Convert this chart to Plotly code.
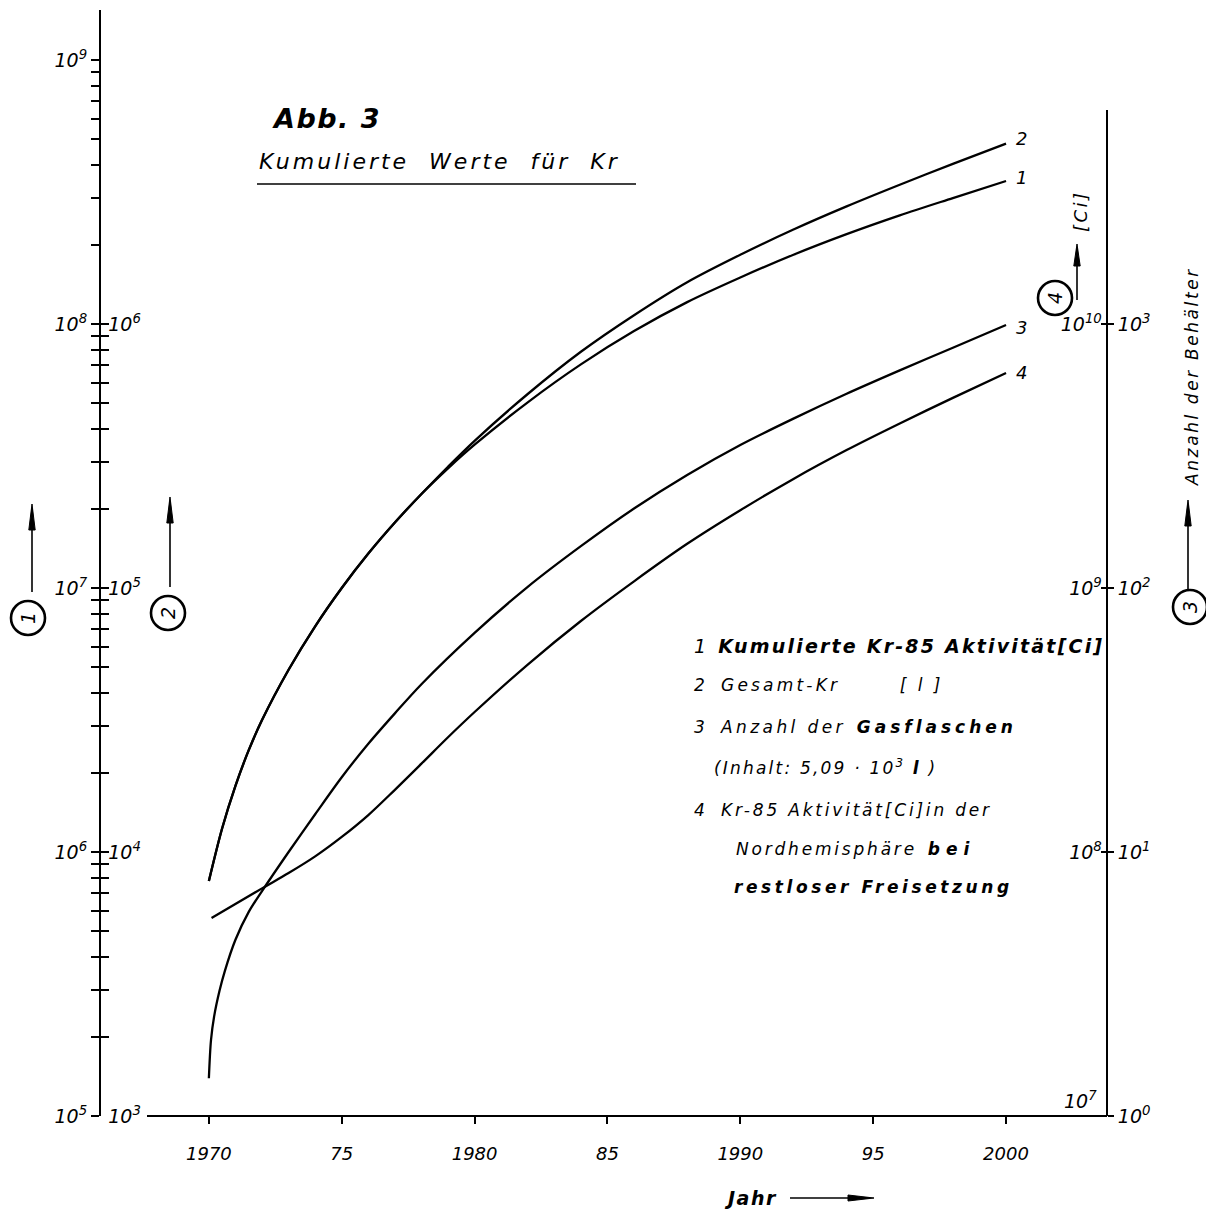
import plotly.graph_objects as go

# ---------------- data ----------------
years_12 = [1970, 1970.5, 1971, 1971.5, 1972, 1973, 1974, 1975, 1976, 1977, 1978, 1979, 1980,
            1982, 1984, 1986, 1988, 1990, 1992, 1994, 1996, 1998, 2000]
kr85_cum_ci = [7.76e5, 1.23e6, 1.78e6, 2.43e6, 3.16e6, 4.90e6, 7.16e6, 1.00e7, 1.35e7, 1.77e7, 2.27e7,
               2.84e7, 3.49e7, 5.05e7, 7.03e7, 9.40e7, 1.21e8, 1.50e8, 1.83e8, 2.19e8, 2.58e8,
               3.00e8, 3.48e8]
gesamt_kr_l = [7.76e3, 1.23e4, 1.78e4, 2.43e4, 3.16e4, 4.90e4, 7.16e4, 1.00e5, 1.35e5, 1.77e5, 2.27e5,
               2.88e5, 3.61e5, 5.43e5, 7.85e5, 1.08e6, 1.44e6, 1.83e6, 2.28e6, 2.79e6, 3.37e6,
               4.04e6, 4.82e6]

years_3 = [1970, 1970.08, 1970.2, 1970.4, 1970.6, 1971, 1971.5, 1972, 1973, 1974, 1975, 1976,
           1977, 1978, 1980, 1982, 1984, 1986, 1988, 1990, 1992, 1994, 1996, 1998, 2000]
gasflaschen = [1.39, 1.94, 2.39, 2.98, 3.54, 4.65, 5.93, 7.11, 10.0, 13.9, 19.2, 25.7,
               33.5, 43.2, 67.6, 101, 144, 200, 268, 348, 438, 544, 667, 813, 991]

years_4 = [1970.1, 1972, 1973, 1974, 1975, 1976, 1977, 1978, 1979, 1980, 1982, 1984, 1986,
           1988, 1990, 1992, 1994, 1996, 1998, 2000]
kr85_nh_ci = [5.62e7, 7.28e7, 8.32e7, 9.62e7, 1.14e8, 1.38e8, 1.72e8, 2.16e8, 2.72e8, 3.39e8, 5.13e8,
              7.50e8, 1.06e9, 1.47e9, 1.97e9, 2.59e9, 3.33e9, 4.20e9, 5.25e9, 6.52e9]

year_ticks = [1970, 1975, 1980, 1985, 1990, 1995, 2000]
year_labels = ["1970", "75", "1980", "85", "1990", "95", "2000"]

# ---------------- geometry helpers ----------------
W, H = 1206, 1213
L, R, T, B = 101, 99, 10, 97
PW, PH = W - L - R, H - T - B


def px(x):
    return (x - L) / PW


def py(y):
    return (H - B - y) / PH


FONT = "DejaVu Sans"
INK = "black"
NB = "\u00a0"


def sup(k):
    return "10<sup>%d</sup>" % k


def sp(s, ls):
    return '<span style="letter-spacing:%spx">%s</span>' % (ls, s)


def decades(k0, k1):
    vals = [10.0 ** k for k in range(k0, k1 + 1)]
    return vals, [sup(k) for k in range(k0, k1 + 1)]


def minors(k0, k1):
    return [m * 10.0 ** k for k in range(k0, k1) for m in range(2, 10)]


t1v, t1t = decades(5, 9)
t2v, t2t = decades(3, 6)
t3v, t3t = decades(0, 3)
t4v, t4t = decades(7, 10)
t4t[0] = " "  # drawn separately above the base line

DEC = (H - B - T) / 264.0  # decades visible on the axes

fig = go.Figure()
line = dict(color=INK, width=2.3, shape="spline", smoothing=0.9)
fig.add_trace(go.Scatter(x=years_12, y=kr85_cum_ci, mode="lines", line=line, yaxis="y", name="1"))
fig.add_trace(go.Scatter(x=years_12, y=gesamt_kr_l, mode="lines", line=line, yaxis="y2", name="2"))
fig.add_trace(go.Scatter(x=years_3, y=gasflaschen, mode="lines", line=line, yaxis="y3", name="3"))
fig.add_trace(go.Scatter(x=years_4, y=kr85_nh_ci, mode="lines", line=line, yaxis="y4", name="4"))

tickfont = dict(family=FONT, size=19, color=INK, style="italic")
common_y = dict(type="log", showgrid=False, zeroline=False, tickcolor=INK, tickwidth=1.6,
                tickfont=tickfont, tickmode="array", ticklabeloverflow="allow")

eps = 1e-4
fig.update_layout(
    width=W, height=H, autosize=False,
    margin=dict(l=L, r=R, t=T, b=B, pad=0),
    paper_bgcolor="white", plot_bgcolor="white",
    showlegend=False,
    xaxis=dict(range=[1965.94, 2003.80], showgrid=False, zeroline=False, showline=False,
               tickmode="array", tickvals=year_ticks, ticktext=year_labels,
               ticks="outside", ticklen=7, tickwidth=2, tickcolor=INK,
               tickfont=dict(family=FONT, size=18, color=INK, style="italic"),
               ticklabelstandoff=14),
    yaxis=dict(common_y, range=[5 - eps, 5 + DEC], side="left", anchor="x",
               showline=True, linecolor=INK, linewidth=2,
               ticks="outside", ticklen=8, tickvals=t1v, ticktext=t1t,
               minor=dict(tickmode="array", tickvals=minors(5, 9), ticks="outside",
                          ticklen=8, tickwidth=1.6, tickcolor=INK, showgrid=False)),
    yaxis2=dict(common_y, range=[3 - eps, 3 + DEC], side="left", anchor="x", overlaying="y",
                showline=False, ticks="inside", ticklen=8, ticklabelposition="inside",
                tickvals=t2v, ticktext=t2t,
                minor=dict(tickmode="array", tickvals=minors(3, 6), ticks="inside",
                           ticklen=8, tickwidth=1.6, tickcolor=INK, showgrid=False)),
    yaxis3=dict(common_y, range=[0 - eps, 0 + DEC], side="right", anchor="x", overlaying="y",
                showline=False, ticks="outside", ticklen=6, tickvals=t3v, ticktext=t3t),
    yaxis4=dict(common_y, range=[7 - eps, 7 + DEC], side="right", anchor="x", overlaying="y",
                showline=False, ticks="inside", ticklen=6, ticklabelposition="inside",
                tickvals=t4v, ticktext=t4t),
)

shapes = [
    # bottom axis line (starts right of the left axis)
    dict(type="line", xref="paper", yref="paper", x0=px(147), x1=1, y0=0, y1=0,
         line=dict(color=INK, width=2)),
    # right axis line
    dict(type="line", xref="paper", yref="paper", x0=1, x1=1, y0=0, y1=py(110),
         line=dict(color=INK, width=2)),
    # subtitle underline
    dict(type="line", xref="paper", yref="paper", x0=px(257), x1=px(636), y0=py(184), y1=py(184),
         line=dict(color=INK, width=1.6)),
]


def circle(cx, cy, r=17):
    return dict(type="circle", xref="paper", yref="paper",
                x0=px(cx - r), x1=px(cx + r), y0=py(cy + r), y1=py(cy - r),
                line=dict(color=INK, width=2.6))


def up_arrow(x, y_tail, y_head, head=26, half=3.2):
    shapes.append(dict(type="line", xref="paper", yref="paper", x0=px(x), x1=px(x),
                       y0=py(y_tail), y1=py(y_head + 4), line=dict(color=INK, width=1.6)))
    path = "M %f %f L %f %f L %f %f Z" % (px(x), py(y_head), px(x - half), py(y_head + head),
                                          px(x + half), py(y_head + head))
    shapes.append(dict(type="path", xref="paper", yref="paper", path=path,
                       fillcolor=INK, line=dict(color=INK, width=1)))


def right_arrow(x_tail, x_head, y, head=26, half=3.0):
    shapes.append(dict(type="line", xref="paper", yref="paper", x0=px(x_tail), x1=px(x_head - 4),
                       y0=py(y), y1=py(y), line=dict(color=INK, width=1.6)))
    path = "M %f %f L %f %f L %f %f Z" % (px(x_head), py(y), px(x_head - head), py(y - half),
                                          px(x_head - head), py(y + half))
    shapes.append(dict(type="path", xref="paper", yref="paper", path=path,
                       fillcolor=INK, line=dict(color=INK, width=1)))


for c in [(28, 618), (168, 613), (1055, 298), (1190, 607)]:
    shapes.append(circle(*c))

up_arrow(32, 592, 504)
up_arrow(170, 587, 497)
up_arrow(1077, 300, 244, head=22)
up_arrow(1188, 590, 500)
right_arrow(790, 874, 1198)

fig.update_layout(shapes=shapes)

ann = []


def text(x, y, s, size=18, anchor="left", angle=0, bold=False):
    t = "<b>%s</b>" % s if bold else s
    ann.append(dict(xref="paper", yref="paper", x=px(x), y=py(y), text=t, showarrow=False,
                    xanchor=anchor, yanchor="middle", textangle=angle,
                    font=dict(family=FONT, size=size, color=INK, style="italic")))


# title block
text(270, 118, sp("Abb. 3", 1.5), size=27, bold=True)
text(257, 161, sp("Kumulierte" + NB * 2 + "Werte" + NB * 2 + "für" + NB * 2 + "Kr", 3.0), size=22)

# curve end labels
text(1014, 138, "2", size=18)
text(1014, 177, "1", size=18)
text(1014, 327, "3", size=18)
text(1014, 372, "4", size=18)

# legend block
text(692, 646, "1" + NB * 2 + sp("<b>Kumulierte Kr-85 Aktivität[Ci]</b>", 2.2), size=19)
text(692, 685, "2" + NB * 3 + sp("Gesamt-Kr", 3.2) + NB * 11 + sp("[ l ]", 3), size=17)
text(692, 727, "3" + NB * 3 + sp("Anzahl" + NB + "der", 3.4) + NB * 2 + sp("<b>Gasflaschen</b>", 4.0), size=17)
text(712, 767, sp("(Inhalt:" + NB + "5,09 · 10<sup>3</sup>" + NB + "<b>l</b> )", 2.2), size=17)
text(692, 810, "4" + NB * 3 + sp("Kr-85 Aktivität[Ci]in der", 2.8), size=17)
text(734, 849, sp("Nordhemisphäre", 2.8) + NB * 2 + sp("<b>bei</b>", 6), size=17)
text(732, 887, sp("<b>restloser" + NB + "Freisetzung</b>", 3.6), size=17)

# circled axis numbers
text(28, 618, "1", size=19, anchor="center", angle=-90)
text(168, 613, "2", size=19, anchor="center", angle=-90)
text(1055, 298, "4", size=19, anchor="center", angle=-90)
text(1190, 607, "3", size=19, anchor="center", angle=-90)

# right axis titles
text(1080, 211, sp("[Ci]", 2.5), size=18, anchor="center", angle=-90)
text(1192, 377, sp("Anzahl" + NB + "der" + NB + "Behälter", 2.6), size=17, anchor="center", angle=-90)
# lowest label of the Ci axis sits above the base line
text(1099, 1100, "10<sup>7</sup>", size=19, anchor="right")

# x axis title
text(722, 1198, sp("<b>Jahr</b>", 1.5), size=19)

fig.update_layout(annotations=ann)

fig.write_html("out.html", config={"displayModeBar": False},
               post_script="document.body.style.margin='0';document.body.style.overflow='hidden';")
